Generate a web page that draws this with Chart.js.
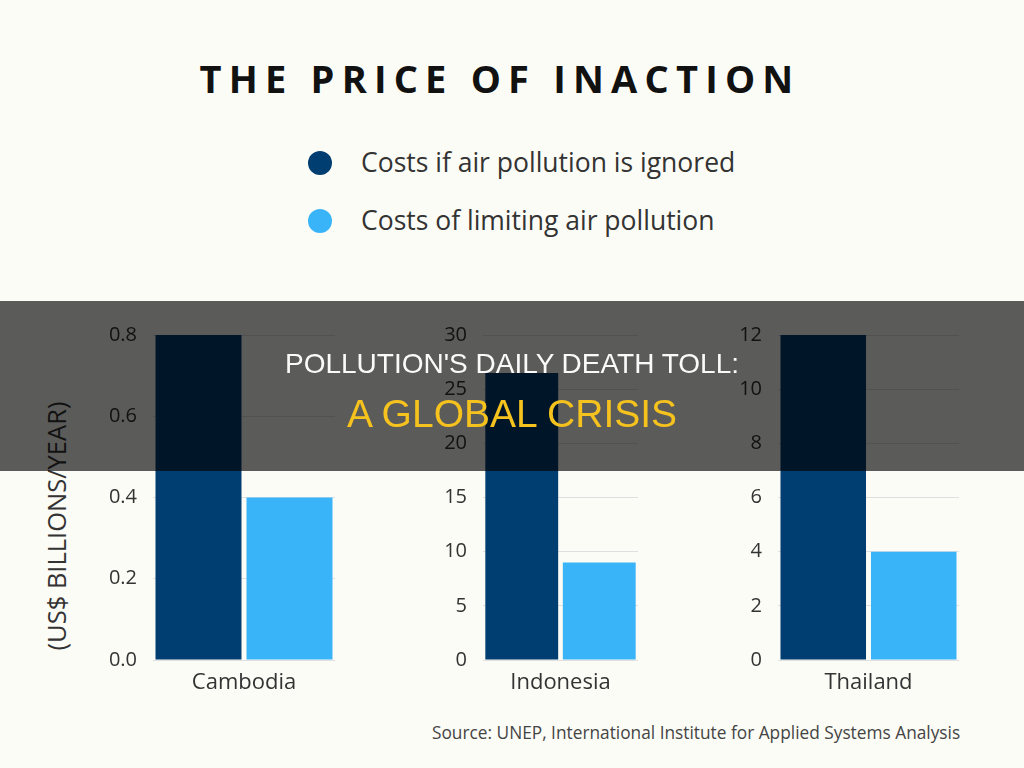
<!DOCTYPE html>
<html>
<head>
<meta charset="utf-8">
<script src="https://cdn.jsdelivr.net/npm/chart.js@4.4.0/dist/chart.umd.min.js"></script>
<style>
  html, body { margin:0; padding:0; }
  body { width:1024px; height:768px; background:#fcfcf6; position:relative; overflow:hidden; font-family:"Open Sans", sans-serif; }
  .abs { position:absolute; }
  #title { left:-12px; width:1024px; top:52px; text-align:center; font-weight:700; font-size:38px; letter-spacing:7.2px; color:#111; line-height:52px; }
  .leg { left:308px; height:30px; line-height:30px; font-size:26.5px; color:#333; white-space:nowrap; }
  .dot { display:inline-block; width:24px; height:24px; border-radius:50%; vertical-align:middle; margin-right:29px; position:relative; top:-2px; }
  canvas { position:absolute; }
  #ytitle { left:56px; top:526px; transform:translate(-50%,-50%) rotate(-90deg); font-size:25.5px; color:#333; white-space:nowrap; }
  #overlay { left:0; top:301px; width:1024px; height:170px; background:rgba(0,0,0,0.64); }
  #ov1 { left:0; width:1024px; top:346px; text-align:center; font-family:"Liberation Sans", Arial, sans-serif; font-size:28px; color:#fafafa; line-height:36px; }
  #ov2 { left:0; width:1024px; top:389px; text-align:center; font-family:"Liberation Sans", Arial, sans-serif; font-size:39px; color:#f6c21e; line-height:50px; }
  #source { left:432px; top:720px; font-size:17.3px; color:#444; white-space:nowrap; line-height:26px; }
</style>
</head>
<body>
<script>
// ---- data ----
const countries = ['Cambodia', 'Indonesia', 'Thailand'];
const seriesNames = ['Costs if air pollution is ignored', 'Costs of limiting air pollution'];
const costsIgnored = [0.8, 26.5, 12];
const costsLimiting = [0.4, 9, 4];
const axisMax = [0.8, 30, 12];
const axisStep = [0.2, 5, 2];
const tickDecimals = [1, 0, 0];
const axisTitle = '(US$ BILLIONS/YEAR)';
const chartTitle = 'THE PRICE OF INACTION';
const sourceText = 'Source: UNEP, International Institute for Applied Systems Analysis';
const overlayLine1 = "POLLUTION'S DAILY DEATH TOLL:";
const overlayLine2 = 'A GLOBAL CRISIS';
const colors = ['#003d70', '#3ab4f8'];
</script>

<div id="title" class="abs"></div>
<div id="leg0" class="abs leg" style="top:147px"></div>
<div id="leg1" class="abs leg" style="top:205px"></div>
<div id="ytitle" class="abs"></div>

<canvas id="c0"></canvas>
<canvas id="c1"></canvas>
<canvas id="c2"></canvas>

<div id="source" class="abs"></div>
<div id="overlay" class="abs"></div>
<div id="ov1" class="abs"></div>
<div id="ov2" class="abs"></div>

<script>
document.getElementById('title').textContent = chartTitle;
document.getElementById('ytitle').textContent = axisTitle;
document.getElementById('source').textContent = sourceText;
document.getElementById('ov1').textContent = overlayLine1;
document.getElementById('ov2').textContent = overlayLine2;
seriesNames.forEach((n, i) => {
  const el = document.getElementById('leg' + i);
  const d = document.createElement('span');
  d.className = 'dot';
  d.style.background = colors[i];
  el.appendChild(d);
  el.appendChild(document.createTextNode(n));
});

Chart.defaults.font.family = '"Open Sans", sans-serif';
Chart.defaults.color = '#333';

// layout per panel: canvas left, width, y-axis width, right padding, bar percentage
const panels = [
  { left: 0,   width: 345, yw: 153, pr: 10, bp: 0.945 },
  { left: 345, width: 300, yw: 138, pr: 7,  bp: 0.94 },
  { left: 645, width: 379, yw: 133, pr: 65, bp: 0.945 }
];

panels.forEach((p, i) => {
  const cv = document.getElementById('c' + i);
  cv.width = p.width; cv.height = 420;
  cv.style.left = p.left + 'px'; cv.style.top = '300px';
  cv.style.width = p.width + 'px'; cv.style.height = '420px';
  new Chart(cv, {
    type: 'bar',
    data: {
      labels: [countries[i]],
      datasets: [
        { label: seriesNames[0], data: [costsIgnored[i]], backgroundColor: colors[0], barPercentage: p.bp, categoryPercentage: 1 },
        { label: seriesNames[1], data: [costsLimiting[i]], backgroundColor: colors[1], barPercentage: p.bp, categoryPercentage: 1 }
      ]
    },
    options: {
      responsive: false,
      animation: false,
      devicePixelRatio: 1,
      layout: { padding: { top: 35, right: p.pr, left: 0, bottom: 0 } },
      plugins: { legend: { display: false }, tooltip: { enabled: false } },
      scales: {
        x: {
          grid: { display: false, drawTicks: false },
          border: { display: false },
          ticks: { font: { size: 22 }, color: '#333', padding: 10 },
          afterFit: s => { s.height = 60; }
        },
        y: {
          min: 0, max: axisMax[i],
          grid: { color: '#e0e0e0', drawTicks: false, lineWidth: 1 },
          border: { display: false },
          ticks: {
            stepSize: axisStep[i],
            font: { size: 20 }, color: '#333', padding: 16,
            callback: v => Number(v).toFixed(tickDecimals[i])
          },
          afterFit: s => { s.width = p.yw; }
        }
      }
    }
  });
});
</script>
</body>
</html>
